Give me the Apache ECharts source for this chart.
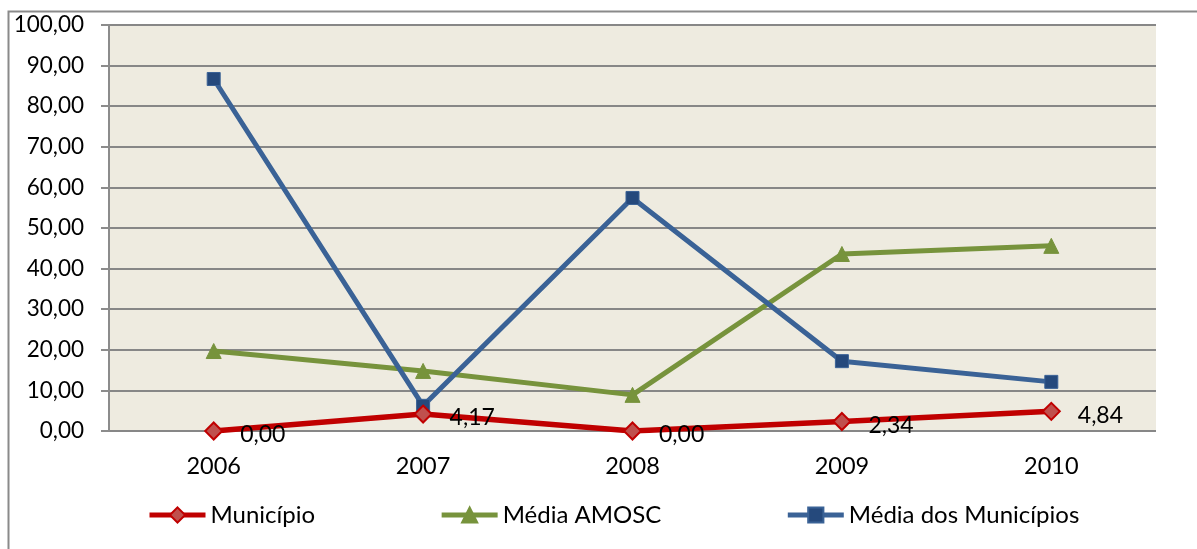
<!DOCTYPE html>
<html>
<head>
<meta charset="utf-8">
<script src="https://cdn.jsdelivr.net/npm/echarts@6/dist/echarts.min.js"></script>
<style>
html,body{margin:0;padding:0;background:#fff;}
#c{width:1197px;height:549px;}
</style>
</head>
<body>
<div id="c"></div>
<script>
var categories = ['2006', '2007', '2008', '2009', '2010'];
var municipio = [0.00, 4.17, 0.00, 2.34, 4.84];
var mediaAmosc = [19.7, 14.8, 8.9, 43.6, 45.6];
var mediaMunicipios = [86.7, 6.2, 57.4, 17.2, 12.1];
var yTicks = { min: 0, max: 100, interval: 10 };

var FONT = 'Lato';
var chart = echarts.init(document.getElementById('c'));
chart.setOption({
  animation: false,
  textStyle: { fontFamily: FONT },
  graphic: [{
    type: 'rect', left: 6, top: 9, z: -1,
    shape: { width: 1400, height: 700 },
    style: { fill: 'none', stroke: '#8a8a8a', lineWidth: 2 }
  }],
  grid: { left: 109, right: 41, top: 25, bottom: 118, show: true, backgroundColor: '#EEEBE0', borderWidth: 0 },
  legend: {
    left: 142, top: 498, itemWidth: 56, itemHeight: 19, itemGap: 124,
    lineStyle: { width: 5 },
    textStyle: { fontFamily: FONT, fontSize: 24, color: '#000' },
    data: ['Município', 'Média AMOSC', 'Média dos Municípios']
  },
  xAxis: {
    type: 'category', data: categories, boundaryGap: true,
    axisLine: { show: false },
    axisTick: { show: false },
    axisLabel: { fontFamily: FONT, fontSize: 23.5, color: '#000', margin: 23 }
  },
  yAxis: {
    type: 'value', min: yTicks.min, max: yTicks.max, interval: yTicks.interval,
    axisLine: { show: true, lineStyle: { color: '#8c8c8c', width: 2 } },
    axisTick: { show: true, length: 8, lineStyle: { color: '#8c8c8c', width: 2 } },
    splitLine: { show: true, lineStyle: { color: '#878787', width: 2 } },
    axisLabel: { fontFamily: FONT, fontSize: 22.5, color: '#000', margin: 25,
      formatter: function (v) { return v.toFixed(2).replace('.', ','); } }
  },
  series: [
    {
      name: 'Média AMOSC', type: 'line', data: mediaAmosc, z: 3,
      symbol: 'triangle', symbolSize: 15,
      lineStyle: { color: '#77933C', width: 5 },
      itemStyle: { color: '#77933C', borderColor: '#77933C', borderWidth: 1 }
    },
    {
      name: 'Média dos Municípios', type: 'line', data: mediaMunicipios, z: 4,
      symbol: 'rect', symbolSize: 13,
      lineStyle: { color: '#3A6296', width: 5 },
      itemStyle: { color: '#25497C', borderColor: '#3A6296', borderWidth: 1 }
    },
    {
      name: 'Município', type: 'line', data: municipio, z: 5,
      symbol: 'diamond', symbolSize: 17,
      lineStyle: { color: '#C00000', width: 5.5 },
      itemStyle: { color: '#C0504D', borderColor: '#C00000', borderWidth: 2 },
      label: {
        show: true, position: 'right', distance: 17, offset: [0, 4],
        fontFamily: FONT, fontSize: 23, color: '#000',
        formatter: function (p) { return p.value.toFixed(2).replace('.', ','); }
      }
    }
  ]
});
</script>
</body>
</html>
